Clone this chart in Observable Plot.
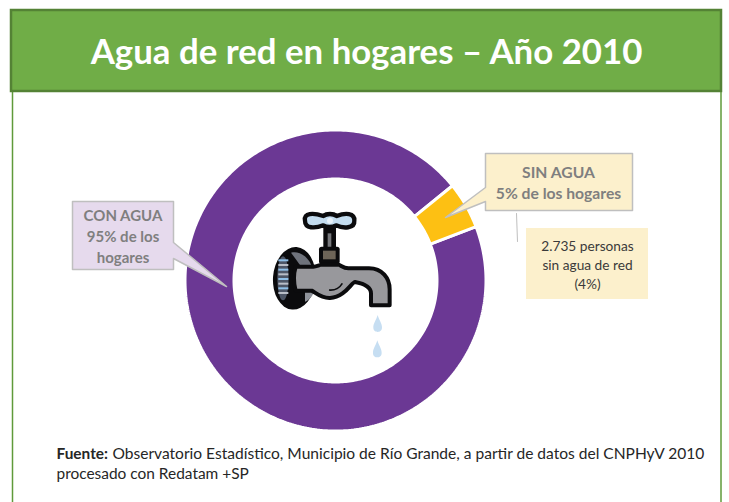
<!DOCTYPE html>
<html lang="es"><head><meta charset="utf-8">
<script src="https://cdn.jsdelivr.net/npm/d3@7"></script>
<script src="https://cdn.jsdelivr.net/npm/@observablehq/plot@0.6"></script>
<style>html,body{margin:0;padding:0;background:#fff}svg{display:block}</style>
</head><body><div id="chart"></div>
<script>
const categories = ["CON AGUA", "SIN AGUA"];
const shares = [95, 5];
const sliceColors = ["#6B3894", "#FDC013"];
const titleText = "Agua de red en hogares – Año 2010";
const sinAguaLines = "SIN AGUA\n5% de los hogares";
const conAguaLines = "CON AGUA\n95% de los\nhogares";
const personasLines = "2.735 personas\nsin agua de red\n(4%)";
const fuenteLabel = "Fuente:";
const fuenteLine1 = "Observatorio Estadístico, Municipio de Río Grande, a partir de datos del CNPHyV 2010";
const fuenteLine2 = "procesado con Redatam +SP";

const W = 729, H = 502, FONT = "Lato, 'Open Sans', sans-serif";
const cx = 335, cy = 280, rOut = 150.5, rIn = 101.5, startDeg = 69;

// ring polygons from the shares
const total = d3.sum(shares);
const ring = [];
let a0 = startDeg;
categories.forEach((cat, i) => {
  const a1 = a0 + shares[i] / total * 360;
  const n = Math.max(8, Math.ceil(a1 - a0));
  const at = (r, deg) => ({cat, x: cx + r * Math.sin(deg * Math.PI / 180), y: cy - r * Math.cos(deg * Math.PI / 180)});
  for (let k = 0; k <= n; k++) ring.push(at(rOut, a0 + (a1 - a0) * k / n));
  for (let k = n; k >= 0; k--) ring.push(at(rIn, a0 + (a1 - a0) * k / n));
  ring.push(at(rOut, a0));
  a0 = a1;
});

const poly = (pts) => pts.map(([x, y]) => ({x, y}));
const sinAguaCallout = poly([[485,153],[632,153],[632,210],[485,210],[485,201],[445,217],[485,187],[485,153]]);
const conAguaCallout = poly([[72,201],[173,201],[173,242],[226,286],[173,258],[173,269],[72,269],[72,201]]);
const frameLeft = poly([[12,91],[12,502]]);
const frameRight = poly([[720.5,91],[720.5,502]]);
const leader = poly([[516,213],[517,241]]);

function faucet() {
  const g = d3.create("svg:g").attr("transform", "translate(255,200) scale(0.3333)");
  const add = (tag, attrs) => { const e = g.append(tag); for (const k in attrs) e.attr(k, attrs[k]); return e; };
  const K = "#0b0b0d", G = "#98989c", B = "#c6def2";
  // drops
  const drop = "M0,-27 C5,-10 13,-2 13,10 C13,20 7,24 0,24 C-7,24 -13,20 -13,10 C-13,-2 -5,-10 0,-27Z";
  add("path", {d: drop, transform: "translate(368,372)", fill: B});
  add("path", {d: drop, transform: "translate(367,448)", fill: B});
  // flange
  add("ellipse", {cx: 118, cy: 235, rx: 64, ry: 94, fill: K, transform: "rotate(4 118 235)"});
  add("ellipse", {cx: 84, cy: 235, rx: 17, ry: 66, fill: "#4d5667"});
  for (const y of [178, 192, 206, 220, 234, 248, 262, 276]) add("rect", {x: 70, y, width: 30, height: 6, fill: y % 28 === 10 ? "#8fc0e8" : "#b9bec8"});
  add("path", {d: "M108,158 C135,150 165,175 172,205 L135,195Z", fill: "#6f737c"});
  add("path", {d: "M150,305 C165,300 175,285 178,270 L150,270Z", fill: "#8f939b"});
  // stem and nut
  add("rect", {x: 205, y: 78, width: 38, height: 75, fill: K});
  add("rect", {x: 218, y: 100, width: 11, height: 42, fill: "#77787c"});
  add("rect", {x: 192, y: 140, width: 62, height: 52, rx: 8, fill: K});
  add("rect", {x: 204, y: 152, width: 38, height: 26, fill: "#6e6558"});
  // body
  const body = "M122,200 L175,200 C185,200 190,196 200,194 L250,194 C258,196 265,205 280,205 L342,205 C382,205 404,235 404,268 L404,316 L348,316 L348,280 C348,262 332,252 300,246 C290,246 270,292 225,294 C198,295 182,278 170,272 L122,272 C116,250 116,220 122,200Z";
  add("path", {d: body, fill: G, stroke: K, "stroke-width": 12, "stroke-linejoin": "round"});
  add("path", {d: "M222,270 C240,272 255,262 262,250", fill: "none", stroke: K, "stroke-width": 5});
  // handle
  const handle = "M150,62 C145,38 175,38 205,48 C215,40 235,40 245,48 C270,38 300,38 298,62 C300,86 265,86 243,76 C232,82 215,82 205,76 C180,86 150,86 150,62Z";
  add("path", {d: handle, fill: "#c3dcef", stroke: K, "stroke-width": 13, "stroke-linejoin": "round"});
  add("circle", {cx: 225, cy: 62, r: 9, fill: "#e8f2fa"});
  return g.node();
}

const box = (x1, x2, y1, y2) => [{x1, x2, y1, y2}];
const rectOpts = {x1: "x1", x2: "x2", y1: "y1", y2: "y2"};
const textAt = (t, x, y, o) => Plot.text([t], {x: () => x, y: () => y, text: d => d, fontFamily: FONT, lineAnchor: "middle", ...o});

const chart = Plot.plot({
  width: W, height: H, margin: 0,
  style: {background: "#fff"},
  x: {domain: [0, W], range: [0, W], axis: null},
  y: {domain: [0, H], range: [0, H], axis: null},
  color: {domain: categories, range: sliceColors},
  marks: [
    Plot.line(frameLeft, {x: "x", y: "y", stroke: "#5f9a3a", strokeWidth: 1.5}),
    Plot.line(frameRight, {x: "x", y: "y", stroke: "#5f9a3a", strokeWidth: 1.5}),
    Plot.rect(box(11, 721, 10, 91), {...rectOpts, fill: "#70AD47", stroke: "#548235", strokeWidth: 2.5}),
    textAt(titleText, 366, 52, {fill: "#fff", fontSize: 34.8, fontWeight: 700}),
    Plot.line(ring, {x: "x", y: "y", z: "cat", fill: "cat", stroke: "#fff", strokeWidth: 3, strokeLinejoin: "miter"}),
    faucet,
    Plot.line(conAguaCallout, {x: "x", y: "y", fill: "#E6DAED", stroke: "#BFBFBF", strokeWidth: 1.5}),
    textAt(conAguaLines, 122.5, 235, {fill: "#7F7F7F", fontSize: 15, fontWeight: 700, lineHeight: 1.4}),
    Plot.line(sinAguaCallout, {x: "x", y: "y", fill: "#FCF0CC", stroke: "#BFBFBF", strokeWidth: 1.5}),
    textAt(sinAguaLines, 558, 181.5, {fill: "#7F7F7F", fontSize: 15.7, fontWeight: 700, lineHeight: 1.34}),
    Plot.line(leader, {x: "x", y: "y", stroke: "#BFBFBF", strokeWidth: 1}),
    Plot.rect(box(526, 648, 228, 299), {...rectOpts, fill: "#FCF0CC"}),
    textAt(personasLines, 587, 263.5, {fill: "#3a3a3a", fontSize: 13.7, lineHeight: 1.36}),
    textAt(fuenteLabel, 56, 454, {fill: "#262626", fontSize: 15.4, fontWeight: 700, textAnchor: "start"}),
    textAt(fuenteLine1, 112, 454, {fill: "#262626", fontSize: 15.55, textAnchor: "start"}),
    textAt(fuenteLine2, 56, 474, {fill: "#262626", fontSize: 15.45, textAnchor: "start"})
  ]
});
document.getElementById("chart").append(chart);
</script></body></html>
